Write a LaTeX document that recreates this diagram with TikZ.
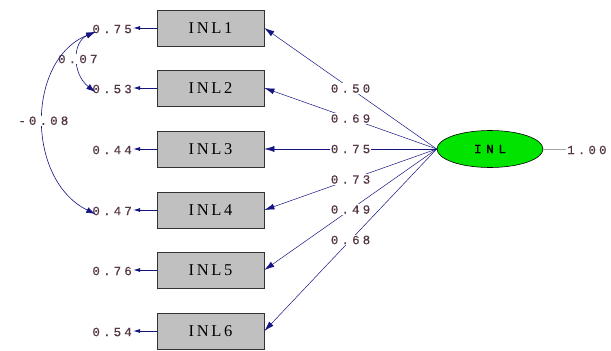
\documentclass[tikz,border=0pt]{standalone}
\usepackage{fontspec}
\usetikzlibrary{arrows.meta,shapes.geometric}
\newfontfamily\numfont[LetterSpace=25,FakeBold=0.6]{Liberation Mono}
\newfontfamily\latfont[LetterSpace=38,FakeBold=1]{Liberation Mono}
\newfontfamily\boxfont[LetterSpace=16]{Liberation Serif}
\definecolor{numcol}{RGB}{85,55,70}
\definecolor{pathcol}{RGB}{20,20,130}
\definecolor{boxgray}{RGB}{192,192,192}
\definecolor{latgreen}{RGB}{0,228,0}
\begin{document}
\begin{tikzpicture}[x=1pt,y=-1pt,
  obs/.style={draw=black!80,fill=boxgray,minimum width=107pt,minimum height=36pt,inner sep=0pt,line width=0.8pt,font=\boxfont\fontsize{16.5}{18}\selectfont},
  lat/.style={ellipse,draw=black,fill=latgreen,minimum width=106pt,minimum height=37pt,inner sep=0pt,line width=0.6pt,font=\latfont\fontsize{12.5}{14}\selectfont},
  errlbl/.style={anchor=east,inner sep=1pt,text=numcol,font=\numfont\fontsize{12.5}{14}\selectfont},
  lbl/.style={fill=white,inner sep=1pt,text=numcol,font=\numfont\fontsize{12.5}{14}\selectfont},
  loadpath/.style={draw=pathcol,line width=0.5pt,-{Latex[length=10pt,width=6pt]}},
  errpath/.style={draw=pathcol,line width=0.9pt,-{Latex[length=7pt,width=4pt]}},
  covpath/.style={draw=pathcol,line width=0.6pt,{Latex[length=9pt,width=6pt]}-{Latex[length=9pt,width=6pt]}}
]
\useasboundingbox (0,0) rectangle (611,351);
\node[obs] (b1) at (210.5,28) {INL1};
\node[obs] (b2) at (210.5,88) {INL2};
\node[obs] (b3) at (210.5,149) {INL3};
\node[obs] (b4) at (210.5,210) {INL4};
\node[obs] (b5) at (210.5,270) {INL5};
\node[obs] (b6) at (210.5,331) {INL6};
\node[lat] (L) at (490,149) {INL};
\node[errlbl] (e1) at (133,29) {0.75};
\node[errlbl] (e2) at (133,89) {0.53};
\node[errlbl] (e3) at (133,150) {0.44};
\node[errlbl] (e4) at (133,211) {0.47};
\node[errlbl] (e5) at (133,271) {0.76};
\node[errlbl] (e6) at (133,332) {0.54};
\foreach \i in {1,...,6} {\draw[errpath] (b\i.west) -- (b\i.west -| e\i.east);}
\draw[loadpath] (L.west) -- node[lbl]{0.50} (b1.east);
\draw[loadpath] (L.west) -- node[lbl]{0.69} (b2.east);
\draw[loadpath] (L.west) -- node[lbl]{0.75} (b3.east);
\draw[loadpath] (L.west) -- node[lbl]{0.73} (b4.east);
\draw[loadpath] (L.west) -- node[lbl]{0.49} (b5.east);
\draw[loadpath] (L.west) -- node[lbl]{0.68} (b6.east);
\coordinate (c1) at ([xshift=4pt,yshift=-3pt]e1.west);
\coordinate (c2) at ([xshift=4pt,yshift=-3pt]e2.west);
\coordinate (c4) at ([xshift=4pt,yshift=-3pt]e4.west);
\draw[covpath] (c1) .. controls (72,42) and (72,74) .. node[lbl]{0.07} (c2);
\draw[covpath] (c1) .. controls (26,60) and (26,180) .. node[lbl]{-0.08} (c4);
\node[anchor=west,inner sep=1pt,text=numcol,font=\numfont\fontsize{12.5}{14}\selectfont] (var) at (566,150) {1.00};
\draw[black!35,line width=0.5pt] (L.east) -- (L.east -| var.west);
\end{tikzpicture}
\end{document}
